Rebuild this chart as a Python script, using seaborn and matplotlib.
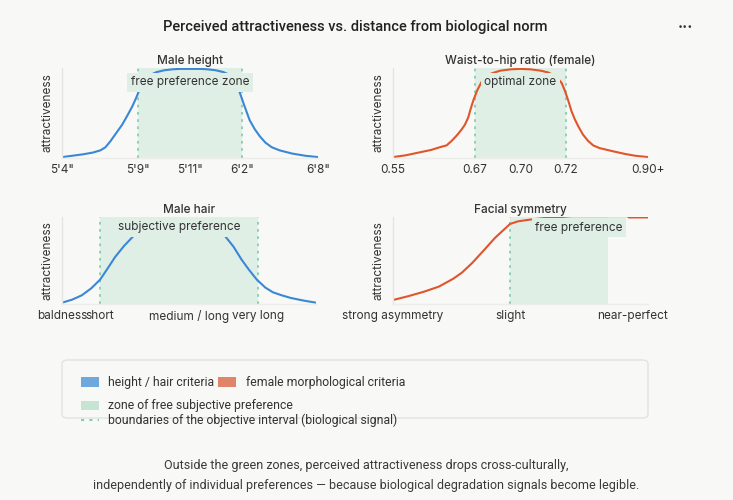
import matplotlib
matplotlib.use("Agg")
import matplotlib.pyplot as plt
import seaborn as sns
import pandas as pd
from matplotlib.patches import Patch, FancyBboxPatch
from matplotlib.lines import Line2D

# Curve readings (x on a 0-100 position scale, y = attractiveness 0-1)
height_x = [0, 4, 8, 12, 15, 17, 19, 21, 23.5, 25.5, 27.4, 29, 30, 31.5, 33, 35, 37, 40, 43, 46, 50,
            54, 57, 60, 63, 65, 67, 68.5, 69.4, 71, 73.3, 75.3, 77.3, 79.5, 81.9, 85, 89.8, 95, 100]
height_y = [0.01, 0.025, 0.04, 0.06, 0.085, 0.12, 0.19, 0.27, 0.37, 0.47, 0.57, 0.67, 0.74, 0.83, 0.89, 0.93, 0.955, 0.975, 0.985, 0.99, 0.99,
            0.99, 0.985, 0.975, 0.955, 0.93, 0.87, 0.80, 0.73, 0.60, 0.42, 0.32, 0.24, 0.17, 0.12, 0.085, 0.05, 0.025, 0.01]
height_ticks = [0, 29.5, 50, 70.5, 100]
height_labels = ['5\'4"', '5\'9"', '5\'11"', '6\'2"', '6\'8"']
height_zone = [29.5, 70.5]

whr_x = [0, 5, 10, 15, 19, 21, 23, 25, 27, 28.2, 29.5, 30.5, 31.5, 33, 34.8, 36.5, 38.7, 42, 46, 50,
         54, 58, 60.9, 63, 64.8, 66.2, 67.5, 68.7, 70, 71.3, 72.7, 74.5, 76.5, 78.5, 81, 84, 87, 91, 95, 100]
whr_y = [0.01, 0.03, 0.06, 0.09, 0.125, 0.14, 0.19, 0.25, 0.32, 0.37, 0.45, 0.55, 0.64, 0.75, 0.85, 0.91, 0.94, 0.97, 0.985, 0.99,
         0.985, 0.97, 0.95, 0.92, 0.88, 0.83, 0.74, 0.64, 0.52, 0.43, 0.35, 0.26, 0.19, 0.14, 0.11, 0.09, 0.07, 0.045, 0.025, 0.01]
whr_ticks = [0, 32, 50, 67.7, 100]
whr_labels = ["0.55", "0.67", "0.70", "0.72", "0.90+"]
whr_zone = [32, 67.7]

hair_x = [0, 4, 7.8, 11.5, 15, 18, 20.9, 24.5, 28.1, 31, 34, 37, 40, 43, 46,
          49, 52, 55, 58, 61, 64.2, 67.5, 70.7, 73.7, 76.7, 80, 83, 86.5, 90, 95, 100]
hair_y = [0.015, 0.05, 0.10, 0.18, 0.28, 0.41, 0.54, 0.67, 0.78, 0.85, 0.90, 0.93, 0.95, 0.96, 0.965,
          0.96, 0.95, 0.93, 0.90, 0.85, 0.78, 0.66, 0.51, 0.39, 0.28, 0.19, 0.135, 0.10, 0.07, 0.04, 0.015]
hair_ticks = [0, 15, 50, 77]
hair_labels = ["baldness", "short", "medium / long", "very long"]
hair_zone = [15, 77]

face_x = [0, 6, 12, 18, 23.6, 27, 31, 35.4, 40, 45.9, 49, 53.7, 60, 66, 70, 92, 92.5, 100]
face_y = [0.046, 0.09, 0.14, 0.20, 0.29, 0.36, 0.47, 0.61, 0.76, 0.92, 0.95, 0.97, 0.99, 1.0, 1.01, 1.01, 0.995, 0.995]
face_ticks = [0, 46, 94]
face_labels = ["strong asymmetry", "slight", "near-perfect"]
face_zone = [46, 84.3]

BG = "#f8f8f6"
BLUE = "#3a87d6"
ORANGE = "#e0552a"
ZONE = "#e0efe6"
DOT = "#86cfae"
TXT = "#333333"

sns.set_theme(style="white")
plt.rcParams["font.family"] = ["Inter", "DejaVu Sans"]
NARROW = ["Roboto", "DejaVu Sans"]

fig = plt.figure(figsize=(7.33, 5.0), dpi=100)
fig.patch.set_facecolor(BG)

W, H = 733, 500
def px_axes(left, top, right, bottom):
    return fig.add_axes([left / W, 1 - bottom / H, (right - left) / W, (bottom - top) / H])

panels = [
    (px_axes(62, 68, 318, 158), height_x, height_y, BLUE, height_ticks, height_labels, height_zone,
     "Male height", "free preference zone", 50, 0.84, True),
    (px_axes(393, 68, 648, 158), whr_x, whr_y, ORANGE, whr_ticks, whr_labels, whr_zone,
     "Waist-to-hip ratio (female)", "optimal zone", 50, 0.84, True),
    (px_axes(62, 217, 316, 304), hair_x, hair_y, BLUE, hair_ticks, hair_labels, hair_zone,
     "Male hair", "subjective preference", 46, 0.885, True),
    (px_axes(393, 217, 648, 304), face_x, face_y, ORANGE, face_ticks, face_labels, face_zone,
     "Facial symmetry", "free preference", 73, 0.875, False),
]

for ax, xs, ys, col, ticks, labels, zone, title, zlabel, zlx, zly, right_line in panels:
    ax.set_facecolor(BG)
    ax.axvspan(zone[0], zone[1], color=ZONE, lw=0, zorder=0)
    ax.axvline(zone[0], color=DOT, ls=(0, (1.5, 2.5)), lw=1.3, zorder=1)
    if right_line:
        ax.axvline(zone[1], color=DOT, ls=(0, (1.5, 2.5)), lw=1.3, zorder=1)
    df = pd.DataFrame({"x": xs, "y": ys})
    sns.lineplot(data=df, x="x", y="y", color=col, lw=1.5, ax=ax, zorder=2)
    ax.text(zlx, zly, zlabel, ha="center", va="center", fontsize=8.5, color=TXT, zorder=3,
            bbox=dict(boxstyle="square,pad=0.3", fc=ZONE, ec="none"))
    ax.set_xlim(0, 100)
    ax.set_ylim(0, 1.0)
    ax.set_xticks(ticks)
    ax.set_xticklabels(labels, fontsize=8.5, color=TXT)
    ax.set_yticks([])
    ax.tick_params(axis="x", length=0, pad=4)
    ax.set_xlabel("")
    ax.set_ylabel("attractiveness", fontsize=8.5, color=TXT, labelpad=6)
    ax.set_title(title, fontsize=8.5, color=TXT, pad=3, fontweight="medium")
    for s in ["top", "right"]:
        ax.spines[s].set_visible(False)
    ax.spines["left"].set_color("#e4e4e2")
    ax.spines["bottom"].set_color("#ececea")
    ax.spines["left"].set_linewidth(1)
    ax.spines["bottom"].set_linewidth(1)

fig.text(355 / W, 1 - 27 / H, "Perceived attractiveness vs. distance from biological norm",
         ha="center", va="center", fontsize=10.5, color="#222222", family=NARROW, fontweight="medium")
fig.text(685 / W, 1 - 23 / H, "...", ha="center", va="center", fontsize=11, color="#333333", fontweight="bold")

# legend frame
fig.patches.append(FancyBboxPatch((62 / W, 1 - 418 / H), 586 / W, 58 / H,
                                  boxstyle="round,pad=0,rounding_size=0.008",
                                  transform=fig.transFigure, fc=BG, ec="#e2e2e0", lw=1, zorder=0))

LEG_SIZE = 8.8
h1 = [Patch(fc="#6fa8dc", ec="none"), Patch(fc="#e0846a", ec="none")]
leg1 = fig.legend(h1, ["height / hair criteria", "female morphological criteria"],
                  loc="center left", bbox_to_anchor=(81 / W, 1 - 382.5 / H), ncol=2, frameon=False,
                  prop={"family": NARROW, "size": LEG_SIZE}, borderpad=0, borderaxespad=0,
                  handlelength=1.45, handleheight=0.82, handletextpad=0.77, columnspacing=0.34)
h2 = [Patch(fc="#c5e4d4", ec="none"), Line2D([0], [0], color=DOT, ls=(0, (1.5, 2.5)), lw=1.5)]
leg2 = fig.legend(h2, ["zone of free subjective preference", "boundaries of the objective interval (biological signal)"],
                  loc="upper left", bbox_to_anchor=(81 / W, 1 - 399.5 / H), ncol=1, frameon=False,
                  prop={"family": NARROW, "size": LEG_SIZE}, borderpad=0, borderaxespad=0,
                  handlelength=1.45, handleheight=0.82, handletextpad=0.77, labelspacing=0.12)
for leg in (leg1, leg2):
    for t in leg.get_texts():
        t.set_color(TXT)

fig.text(0.5, 1 - 475 / H,
         "Outside the green zones, perceived attractiveness drops cross-culturally,\n"
         "independently of individual preferences \u2014 because biological degradation signals become legible.",
         ha="center", va="center", fontsize=9, color="#3a3a3a", family=NARROW, linespacing=1.7)

fig.savefig("out.png", dpi=100, facecolor=BG)
